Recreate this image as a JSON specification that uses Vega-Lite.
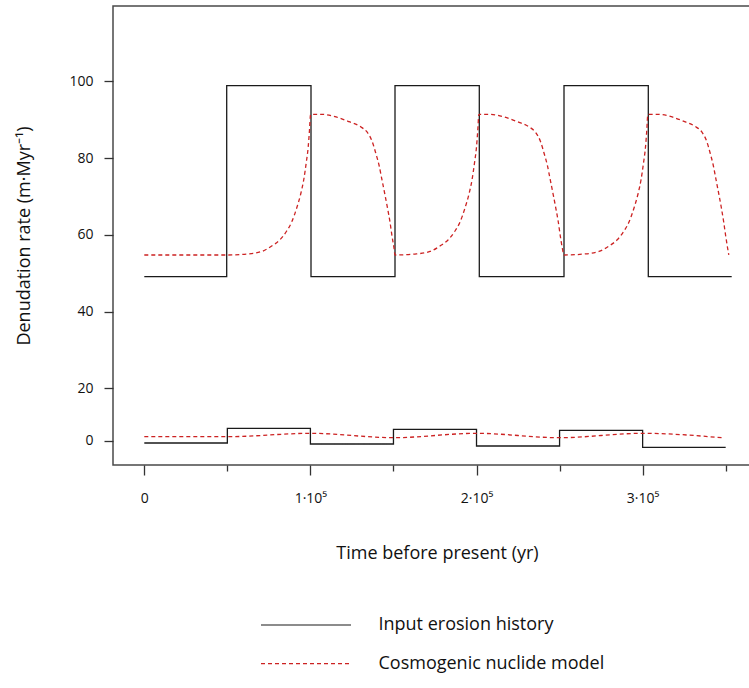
{
  "$schema": "https://vega.github.io/schema/vega-lite/v6.json",
  "width": 637,
  "height": 459,
  "autosize": {"type": "none"},
  "padding": {"left": 113, "top": 6, "right": -1, "bottom": 223},
  "background": "white",
  "config": {
    "font": "Open Sans",
    "view": {"stroke": "#4a4a4a", "strokeWidth": 1.5},
    "axis": {"domain": false, "grid": false, "tickColor": "#333333", "tickWidth": 1.3, "labelColor": "#111111", "titleColor": "#111111", "labelFontSize": 14, "titleFontSize": 18, "titleFontWeight": "normal", "labelFont": "Open Sans", "titleFont": "Open Sans"}
  },
  "data": {"values": [
    {"series": "Input erosion history", "line": "bu", "i": 0, "t": 0, "v": 49.1},
    {"series": "Input erosion history", "line": "bu", "i": 1, "t": 49606, "v": 49.1},
    {"series": "Input erosion history", "line": "bu", "i": 2, "t": 49606, "v": 98.85},
    {"series": "Input erosion history", "line": "bu", "i": 3, "t": 100355, "v": 98.85},
    {"series": "Input erosion history", "line": "bu", "i": 4, "t": 100355, "v": 49.1},
    {"series": "Input erosion history", "line": "bu", "i": 5, "t": 150924, "v": 49.1},
    {"series": "Input erosion history", "line": "bu", "i": 6, "t": 150924, "v": 98.85},
    {"series": "Input erosion history", "line": "bu", "i": 7, "t": 201673, "v": 98.85},
    {"series": "Input erosion history", "line": "bu", "i": 8, "t": 201673, "v": 49.1},
    {"series": "Input erosion history", "line": "bu", "i": 9, "t": 252664, "v": 49.1},
    {"series": "Input erosion history", "line": "bu", "i": 10, "t": 252664, "v": 98.85},
    {"series": "Input erosion history", "line": "bu", "i": 11, "t": 303413, "v": 98.85},
    {"series": "Input erosion history", "line": "bu", "i": 12, "t": 303413, "v": 49.1},
    {"series": "Input erosion history", "line": "bu", "i": 13, "t": 353621, "v": 49.1},

    {"series": "Input erosion history", "line": "bl", "i": 0, "t": 0, "v": -0.88},
    {"series": "Input erosion history", "line": "bl", "i": 1, "t": 50000, "v": -0.88},
    {"series": "Input erosion history", "line": "bl", "i": 2, "t": 50000, "v": 4.73},
    {"series": "Input erosion history", "line": "bl", "i": 3, "t": 100000, "v": 4.73},
    {"series": "Input erosion history", "line": "bl", "i": 4, "t": 100000, "v": -1.26},
    {"series": "Input erosion history", "line": "bl", "i": 5, "t": 150000, "v": -1.26},
    {"series": "Input erosion history", "line": "bl", "i": 6, "t": 150000, "v": 4.35},
    {"series": "Input erosion history", "line": "bl", "i": 7, "t": 200000, "v": 4.35},
    {"series": "Input erosion history", "line": "bl", "i": 8, "t": 200000, "v": -2.02},
    {"series": "Input erosion history", "line": "bl", "i": 9, "t": 250000, "v": -2.02},
    {"series": "Input erosion history", "line": "bl", "i": 10, "t": 250000, "v": 3.97},
    {"series": "Input erosion history", "line": "bl", "i": 11, "t": 300000, "v": 3.97},
    {"series": "Input erosion history", "line": "bl", "i": 12, "t": 300000, "v": -2.52},
    {"series": "Input erosion history", "line": "bl", "i": 13, "t": 350000, "v": -2.52},

    {"series": "Cosmogenic nuclide model", "line": "rl", "i": 0, "t": 0, "v": 1.53},
    {"series": "Cosmogenic nuclide model", "line": "rl", "i": 1, "t": 50000, "v": 1.53},
    {"series": "Cosmogenic nuclide model", "line": "rl", "i": 2, "t": 100000, "v": 2.82},
    {"series": "Cosmogenic nuclide model", "line": "rl", "i": 3, "t": 150000, "v": 1.15},
    {"series": "Cosmogenic nuclide model", "line": "rl", "i": 4, "t": 200000, "v": 2.82},
    {"series": "Cosmogenic nuclide model", "line": "rl", "i": 5, "t": 250000, "v": 1.15},
    {"series": "Cosmogenic nuclide model", "line": "rl", "i": 6, "t": 300000, "v": 2.82},
    {"series": "Cosmogenic nuclide model", "line": "rl", "i": 7, "t": 347600, "v": 1.15},

    {"series": "Cosmogenic nuclide model", "line": "ru", "i": 0, "t": 0, "v": 54.74},
    {"series": "Cosmogenic nuclide model", "line": "ru", "i": 1, "t": 49606, "v": 54.74},
    {"series": "Cosmogenic nuclide model", "line": "ru", "i": 2, "t": 61646, "v": 54.99},
    {"series": "Cosmogenic nuclide model", "line": "ru", "i": 3, "t": 70676, "v": 55.65},
    {"series": "Cosmogenic nuclide model", "line": "ru", "i": 4, "t": 76696, "v": 57.08},
    {"series": "Cosmogenic nuclide model", "line": "ru", "i": 5, "t": 81512, "v": 58.64},
    {"series": "Cosmogenic nuclide model", "line": "ru", "i": 6, "t": 85726, "v": 60.99},
    {"series": "Cosmogenic nuclide model", "line": "ru", "i": 7, "t": 88736, "v": 63.33},
    {"series": "Cosmogenic nuclide model", "line": "ru", "i": 8, "t": 91746, "v": 66.98},
    {"series": "Cosmogenic nuclide model", "line": "ru", "i": 9, "t": 94154, "v": 70.63},
    {"series": "Cosmogenic nuclide model", "line": "ru", "i": 10, "t": 95960, "v": 74.28},
    {"series": "Cosmogenic nuclide model", "line": "ru", "i": 11, "t": 97465, "v": 78.71},
    {"series": "Cosmogenic nuclide model", "line": "ru", "i": 12, "t": 98669, "v": 82.88},
    {"series": "Cosmogenic nuclide model", "line": "ru", "i": 13, "t": 99452, "v": 87.31},
    {"series": "Cosmogenic nuclide model", "line": "ru", "i": 14, "t": 100054, "v": 91.22},
    {"series": "Cosmogenic nuclide model", "line": "ru", "i": 15, "t": 100355, "v": 91.4},
    {"series": "Cosmogenic nuclide model", "line": "ru", "i": 16, "t": 106375, "v": 91.4},
    {"series": "Cosmogenic nuclide model", "line": "ru", "i": 17, "t": 115405, "v": 90.7},
    {"series": "Cosmogenic nuclide model", "line": "ru", "i": 18, "t": 123231, "v": 89.47},
    {"series": "Cosmogenic nuclide model", "line": "ru", "i": 19, "t": 130456, "v": 88.09},
    {"series": "Cosmogenic nuclide model", "line": "ru", "i": 20, "t": 134068, "v": 86.79},
    {"series": "Cosmogenic nuclide model", "line": "ru", "i": 21, "t": 137078, "v": 84.44},
    {"series": "Cosmogenic nuclide model", "line": "ru", "i": 22, "t": 139486, "v": 81.06},
    {"series": "Cosmogenic nuclide model", "line": "ru", "i": 23, "t": 141292, "v": 78.19},
    {"series": "Cosmogenic nuclide model", "line": "ru", "i": 24, "t": 143098, "v": 74.28},
    {"series": "Cosmogenic nuclide model", "line": "ru", "i": 25, "t": 144904, "v": 70.37},
    {"series": "Cosmogenic nuclide model", "line": "ru", "i": 26, "t": 146409, "v": 66.98},
    {"series": "Cosmogenic nuclide model", "line": "ru", "i": 27, "t": 147914, "v": 63.33},
    {"series": "Cosmogenic nuclide model", "line": "ru", "i": 28, "t": 149118, "v": 59.69},
    {"series": "Cosmogenic nuclide model", "line": "ru", "i": 29, "t": 150322, "v": 56.56},
    {"series": "Cosmogenic nuclide model", "line": "ru", "i": 30, "t": 150924, "v": 54.74},
    {"series": "Cosmogenic nuclide model", "line": "ru", "i": 31, "t": 162964, "v": 54.99},
    {"series": "Cosmogenic nuclide model", "line": "ru", "i": 32, "t": 171994, "v": 55.65},
    {"series": "Cosmogenic nuclide model", "line": "ru", "i": 33, "t": 178014, "v": 57.08},
    {"series": "Cosmogenic nuclide model", "line": "ru", "i": 34, "t": 182830, "v": 58.64},
    {"series": "Cosmogenic nuclide model", "line": "ru", "i": 35, "t": 187044, "v": 60.99},
    {"series": "Cosmogenic nuclide model", "line": "ru", "i": 36, "t": 190054, "v": 63.33},
    {"series": "Cosmogenic nuclide model", "line": "ru", "i": 37, "t": 193064, "v": 66.98},
    {"series": "Cosmogenic nuclide model", "line": "ru", "i": 38, "t": 195472, "v": 70.63},
    {"series": "Cosmogenic nuclide model", "line": "ru", "i": 39, "t": 197278, "v": 74.28},
    {"series": "Cosmogenic nuclide model", "line": "ru", "i": 40, "t": 198783, "v": 78.71},
    {"series": "Cosmogenic nuclide model", "line": "ru", "i": 41, "t": 199987, "v": 82.88},
    {"series": "Cosmogenic nuclide model", "line": "ru", "i": 42, "t": 200770, "v": 87.31},
    {"series": "Cosmogenic nuclide model", "line": "ru", "i": 43, "t": 201372, "v": 91.22},
    {"series": "Cosmogenic nuclide model", "line": "ru", "i": 44, "t": 201673, "v": 91.4},
    {"series": "Cosmogenic nuclide model", "line": "ru", "i": 45, "t": 207693, "v": 91.4},
    {"series": "Cosmogenic nuclide model", "line": "ru", "i": 46, "t": 216723, "v": 90.7},
    {"series": "Cosmogenic nuclide model", "line": "ru", "i": 47, "t": 224549, "v": 89.47},
    {"series": "Cosmogenic nuclide model", "line": "ru", "i": 48, "t": 231774, "v": 88.09},
    {"series": "Cosmogenic nuclide model", "line": "ru", "i": 49, "t": 235386, "v": 86.79},
    {"series": "Cosmogenic nuclide model", "line": "ru", "i": 50, "t": 238396, "v": 84.44},
    {"series": "Cosmogenic nuclide model", "line": "ru", "i": 51, "t": 240804, "v": 81.06},
    {"series": "Cosmogenic nuclide model", "line": "ru", "i": 52, "t": 242610, "v": 78.19},
    {"series": "Cosmogenic nuclide model", "line": "ru", "i": 53, "t": 244416, "v": 74.28},
    {"series": "Cosmogenic nuclide model", "line": "ru", "i": 54, "t": 246222, "v": 70.37},
    {"series": "Cosmogenic nuclide model", "line": "ru", "i": 55, "t": 247727, "v": 66.98},
    {"series": "Cosmogenic nuclide model", "line": "ru", "i": 56, "t": 249232, "v": 63.33},
    {"series": "Cosmogenic nuclide model", "line": "ru", "i": 57, "t": 250436, "v": 59.69},
    {"series": "Cosmogenic nuclide model", "line": "ru", "i": 58, "t": 251640, "v": 56.56},
    {"series": "Cosmogenic nuclide model", "line": "ru", "i": 59, "t": 252664, "v": 54.74},
    {"series": "Cosmogenic nuclide model", "line": "ru", "i": 60, "t": 264704, "v": 54.99},
    {"series": "Cosmogenic nuclide model", "line": "ru", "i": 61, "t": 273734, "v": 55.65},
    {"series": "Cosmogenic nuclide model", "line": "ru", "i": 62, "t": 279754, "v": 57.08},
    {"series": "Cosmogenic nuclide model", "line": "ru", "i": 63, "t": 284570, "v": 58.64},
    {"series": "Cosmogenic nuclide model", "line": "ru", "i": 64, "t": 288784, "v": 60.99},
    {"series": "Cosmogenic nuclide model", "line": "ru", "i": 65, "t": 291794, "v": 63.33},
    {"series": "Cosmogenic nuclide model", "line": "ru", "i": 66, "t": 294804, "v": 66.98},
    {"series": "Cosmogenic nuclide model", "line": "ru", "i": 67, "t": 297212, "v": 70.63},
    {"series": "Cosmogenic nuclide model", "line": "ru", "i": 68, "t": 299018, "v": 74.28},
    {"series": "Cosmogenic nuclide model", "line": "ru", "i": 69, "t": 300523, "v": 78.71},
    {"series": "Cosmogenic nuclide model", "line": "ru", "i": 70, "t": 301727, "v": 82.88},
    {"series": "Cosmogenic nuclide model", "line": "ru", "i": 71, "t": 302510, "v": 87.31},
    {"series": "Cosmogenic nuclide model", "line": "ru", "i": 72, "t": 303112, "v": 91.22},
    {"series": "Cosmogenic nuclide model", "line": "ru", "i": 73, "t": 303413, "v": 91.4},
    {"series": "Cosmogenic nuclide model", "line": "ru", "i": 74, "t": 309192, "v": 91.4},
    {"series": "Cosmogenic nuclide model", "line": "ru", "i": 75, "t": 317801, "v": 90.7},
    {"series": "Cosmogenic nuclide model", "line": "ru", "i": 76, "t": 325266, "v": 89.47},
    {"series": "Cosmogenic nuclide model", "line": "ru", "i": 77, "t": 332189, "v": 88.09},
    {"series": "Cosmogenic nuclide model", "line": "ru", "i": 78, "t": 335621, "v": 86.79},
    {"series": "Cosmogenic nuclide model", "line": "ru", "i": 79, "t": 338510, "v": 84.44},
    {"series": "Cosmogenic nuclide model", "line": "ru", "i": 80, "t": 340798, "v": 81.06},
    {"series": "Cosmogenic nuclide model", "line": "ru", "i": 81, "t": 342484, "v": 78.19},
    {"series": "Cosmogenic nuclide model", "line": "ru", "i": 82, "t": 344229, "v": 74.28},
    {"series": "Cosmogenic nuclide model", "line": "ru", "i": 83, "t": 345975, "v": 70.37},
    {"series": "Cosmogenic nuclide model", "line": "ru", "i": 84, "t": 347420, "v": 66.98},
    {"series": "Cosmogenic nuclide model", "line": "ru", "i": 85, "t": 348805, "v": 63.33},
    {"series": "Cosmogenic nuclide model", "line": "ru", "i": 86, "t": 350009, "v": 59.69},
    {"series": "Cosmogenic nuclide model", "line": "ru", "i": 87, "t": 351152, "v": 56.56},
    {"series": "Cosmogenic nuclide model", "line": "ru", "i": 88, "t": 351875, "v": 54.74}
  ]},
  "encoding": {
    "x": {
      "field": "t", "type": "quantitative",
      "scale": {"domain": [-18843, 364638], "nice": false, "zero": false},
      "axis": {
        "values": [0, 50000, 100000, 150000, 200000, 250000, 300000, 350000],
        "labelExpr": "datum.value % 100000 === 0 ? (datum.value === 0 ? '0' : (datum.value / 100000) + '·10⁵') : ''",
        "tickSize": {"condition": {"test": "datum.value % 100000 === 0", "value": 10}, "value": 6},
        "labelPadding": 16,
        "labelFlush": false,
        "labelOverlap": false,
        "title": "Time before present (yr)",
        "titlePadding": 39,
        "titleX": 324
      }
    },
    "y": {
      "field": "v", "type": "quantitative",
      "scale": {"domain": [-9.27, 20, 119.62], "range": [459, 382.3, 0], "nice": false, "zero": false},
      "axis": {
        "values": [0, 20, 40, 60, 80, 100],
        "tickSize": 9,
        "labelPadding": 11,
        "title": "Denudation rate (m·Myr⁻¹)",
        "titlePadding": 35
      }
    },
    "color": {
      "field": "series", "type": "nominal",
      "scale": {"domain": ["Input erosion history", "Cosmogenic nuclide model"], "range": ["#1a1a1a", "#cc2222"]},
      "legend": {
        "title": null, "orient": "none", "legendX": 182, "legendY": 608,
        "symbolType": "M-4.5,0H4.5", "symbolSize": 400, "symbolStrokeWidth": 1.2,
        "labelFontSize": 18, "labelOffset": 61.5, "rowPadding": 18.7, "padding": 0,
        "labelFont": "Open Sans", "labelColor": "#111111", "labelLimit": 400
      }
    },
    "strokeDash": {
      "field": "series", "type": "nominal",
      "scale": {"domain": ["Input erosion history", "Cosmogenic nuclide model"], "range": [[1, 0], [4, 3]]},
      "legend": {
        "title": null, "orient": "none", "legendX": 182, "legendY": 608,
        "symbolType": "M-4.5,0H4.5", "symbolSize": 400, "symbolStrokeWidth": 1.2,
        "labelFontSize": 18, "labelOffset": 61.5, "rowPadding": 18.7, "padding": 0,
        "labelFont": "Open Sans", "labelColor": "#111111", "labelLimit": 400
      }
    },
    "detail": {"field": "line", "type": "nominal"},
    "order": {"field": "i", "type": "quantitative"}
  },
  "layer": [
    {
      "transform": [{"filter": "datum.series === 'Input erosion history'"}],
      "mark": {"type": "line", "strokeWidth": 1.3}
    },
    {
      "transform": [{"filter": "datum.series === 'Cosmogenic nuclide model'"}],
      "mark": {"type": "line", "strokeWidth": 1.3, "interpolate": "monotone"}
    }
  ]
}
